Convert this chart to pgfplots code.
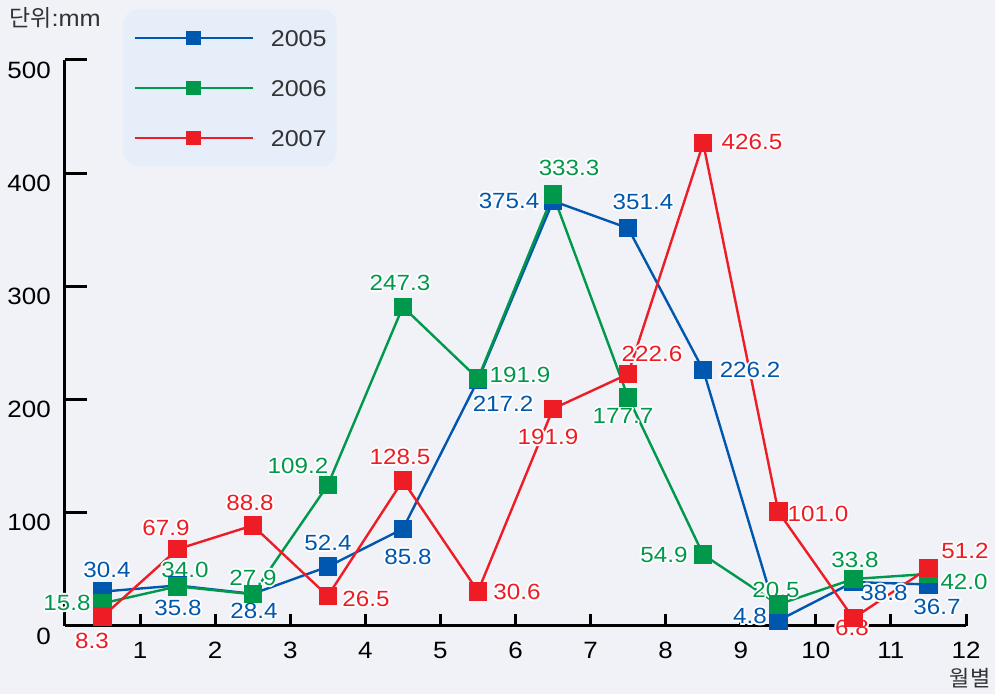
\documentclass[border=0pt]{standalone}
\usepackage{pgfplots}
\pgfplotsset{compat=1.18}
\usepackage{pgfplotstable}
\usepackage{fontspec}
\setmainfont{Liberation Sans}[FakeStretch=1.1]
\newfontfamily\kr{Noto Sans CJK KR}

\definecolor{bgc}{HTML}{F0F2F8}
\definecolor{legbg}{HTML}{E6EEF9}
\definecolor{c05}{HTML}{0057AE}
\definecolor{c06}{HTML}{00984A}
\definecolor{c07}{HTML}{EE1C25}
\definecolor{txt}{HTML}{333333}

% value label with a white halo: 8 white copies, then the coloured one
\tikzset{vl/.style={inner sep=0pt,font=\fontsize{11}{13}\selectfont}}
\newcommand\lab[4]{%
  \node[vl,text=white,xshift=1pt] at (axis cs:#2,#3) {#4};
  \node[vl,text=white,xshift=-1pt] at (axis cs:#2,#3) {#4};
  \node[vl,text=white,yshift=1pt] at (axis cs:#2,#3) {#4};
  \node[vl,text=white,yshift=-1pt] at (axis cs:#2,#3) {#4};
  \node[vl,text=white,xshift=.7pt,yshift=.7pt] at (axis cs:#2,#3) {#4};
  \node[vl,text=white,xshift=-.7pt,yshift=.7pt] at (axis cs:#2,#3) {#4};
  \node[vl,text=white,xshift=.7pt,yshift=-.7pt] at (axis cs:#2,#3) {#4};
  \node[vl,text=white,xshift=-.7pt,yshift=-.7pt] at (axis cs:#2,#3) {#4};
  \node[vl,text=#1] at (axis cs:#2,#3) {#4};}

% monthly rainfall, mm (points at the middle of each month)
\pgfplotstableread{
x    y2005  y2006  y2007
0.5  30.4   20.0   8.3
1.5  35.8   35.0   67.9
2.5  28.4   28.0   88.8
3.5  52.4   124.5  26.5
4.5  85.8   282.0  128.5
5.5  217.2  218.5  30.6
6.5  375.4  381.0  191.9
7.5  351.4  202.0  222.6
8.5  226.2  63.0   426.5
9.5  4.8    19.0   101.0
10.5 38.8   41.5   6.8
11.5 36.7   46.0   51.2
}\rain

\begin{document}
\begin{tikzpicture}
\fill[bgc] (-32.5pt,-34pt) rectangle (465pt,313pt);
\begin{axis}[width=450.5pt,height=283pt,scale only axis,
  xmin=0,xmax=12,ymin=0,ymax=500,
  axis lines=left, axis line style={-,line width=1.5pt,black},
  tick align=inside, tick style={line width=1.5pt,black},
  xtick={1,...,12}, ytick={0,100,...,500},
  xtick style={/pgfplots/major tick length=6pt},
  ytick style={/pgfplots/major tick length=11pt},
  /pgf/number format/assume math mode=true,
  ticklabel style={font=\fontsize{11.8}{14}\selectfont},
  yticklabel style={xshift=-3.6pt,yshift=-5pt},
  xticklabel style={yshift=-4.5pt},
  clip=false,
  legend style={at={(axis description cs:0.0644,1.090)},anchor=north west,
    draw=none,fill=legbg,rounded corners=7.5pt,
    inner xsep=5pt,inner ysep=10pt,row sep=16.6pt,
    font=\fontsize{11.4}{14}\selectfont,text=txt,
    nodes={inner sep=0pt,text height=8.4pt,text depth=0pt},
    /tikz/every odd column/.append style={column sep=8.5pt}},
  legend image code/.code={\draw[#1,sharp corners,mark=none] (0pt,0pt) -- (59pt,0pt);
    \draw[#1,sharp corners,only marks,mark size=3pt] plot coordinates {(29.5pt,0pt)};},
  every axis plot/.append style={line width=1.2pt,mark=square*,mark size=4pt,
    mark options={solid}},
]
\addplot[c05,mark options={fill=c05}] table[x=x,y=y2005] {\rain};
\addlegendentry{2005}
\addplot[c06,mark options={fill=c06}] table[x=x,y=y2006] {\rain};
\addlegendentry{2006}
\addplot[c07,mark options={fill=c07}] table[x=x,y=y2007] {\rain};
\addlegendentry{2007}

\lab{c05}{0.559}{49.5}{30.4}
\lab{c05}{1.505}{15.9}{35.8}
\lab{c05}{2.517}{13.3}{28.4}
\lab{c05}{3.503}{73.3}{52.4}
\lab{c05}{4.568}{61.0}{85.8}
\lab{c05}{5.834}{196.1}{217.2}
\lab{c05}{5.914}{375.4}{375.4}
\lab{c05}{7.698}{374.6}{351.4}
\lab{c05}{9.124}{226.1}{226.2}
\lab{c05}{9.124}{8.8}{4.8}
\lab{c05}{10.908}{29.2}{38.8}
\lab{c05}{11.614}{16.8}{36.7}

\lab{c06}{0.027}{20.3}{15.8}
\lab{c06}{1.598}{49.5}{34.0}
\lab{c06}{2.504}{42.4}{27.9}
\lab{c06}{3.103}{141.3}{109.2}
\lab{c06}{4.462}{303.0}{247.3}
\lab{c06}{6.060}{221.7}{191.9}
\lab{c06}{6.713}{404.6}{333.3}
\lab{c06}{7.432}{185.5}{177.7}
\lab{c06}{7.978}{62.7}{54.9}
\lab{c06}{9.470}{31.8}{20.5}
\lab{c06}{10.522}{58.3}{33.8}
\lab{c06}{11.974}{38.9}{42.0}

\lab{c07}{0.360}{-13.3}{8.3}
\lab{c07}{1.345}{86.6}{67.9}
\lab{c07}{2.464}{108.7}{88.8}
\lab{c07}{4.009}{23.9}{26.5}
\lab{c07}{4.462}{149.3}{128.5}
\lab{c07}{6.020}{30.0}{30.6}
\lab{c07}{6.433}{167.0}{191.9}
\lab{c07}{7.818}{240.3}{222.6}
\lab{c07}{9.150}{427.6}{426.5}
\lab{c07}{10.029}{98.9}{101.0}
\lab{c07}{10.482}{-1.8}{6.8}
\lab{c07}{11.987}{66.3}{51.2}

\node[text=txt,font=\fontsize{11.5}{13}\selectfont] at (axis cs:-0.133,537.1) {{\kr 단위}:mm};
\node[text=txt,font=\fontsize{11}{13}\selectfont\kr] at (axis cs:12.054,-45.9) {월별};
\end{axis}
\pgfresetboundingbox
\useasboundingbox (-32.5pt,-34pt) rectangle (465pt,313pt);
\end{tikzpicture}
\end{document}
